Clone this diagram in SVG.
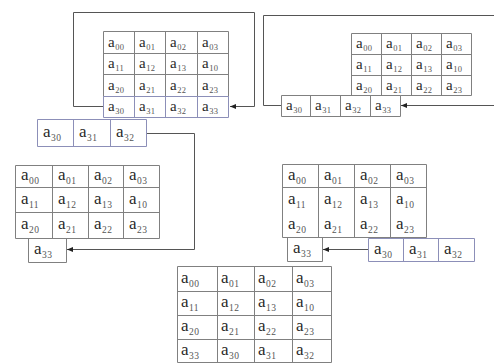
<svg xmlns="http://www.w3.org/2000/svg" width="494" height="363" viewBox="0 0 494 363">
<defs>
<style>
.g{fill:none;stroke:#808080;stroke-width:1}
.b{fill:none;stroke:#8c8fb8;stroke-width:1}
.c{fill:none;stroke:#555;stroke-width:1}
text{font-family:"Liberation Serif",serif;fill:#2a2a2a}
.m{font-size:15px}
.L{font-size:17px}
.s{font-size:8.5px;fill:#555;letter-spacing:0.4px}
.S{font-size:9.5px;fill:#555;letter-spacing:0.4px}
</style>
<marker id="ar" markerUnits="userSpaceOnUse" markerWidth="6" markerHeight="6" refX="6" refY="3" orient="auto">
<path d="M0,0.5 L6,3 L0,5.5 z" fill="#222"/>
</marker>
</defs>
<rect width="494" height="363" fill="#fff"/>

<g id="connectors">
<path class="c" d="M103 106.5 H73.5 V12.5 H254.5 V106.5 H230" marker-end="url(#ar)"/>
<path class="c" d="M146 133.5 H194.5 V249.5 H67" marker-end="url(#ar)"/>
<path class="c" d="M281 105.5 H263.5 V15.5 H498 V105.5 H401" marker-end="url(#ar)"/>
<path class="c" d="M368 249.5 H323" marker-end="url(#ar)"/>
</g>

<g id="m1">
<path class="g" d="M103.5 31.5 H228.5 V96.5 H103.5 Z M103.5 53.5 H228.5 M103.5 74.5 H228.5 M134.5 31.5 V96.5 M165.5 31.5 V96.5 M197.5 31.5 V96.5"/>
<path class="b" d="M103.5 96.5 H228.5 V117.5 H103.5 Z M134.5 96.5 V117.5 M165.5 96.5 V117.5 M197.5 96.5 V117.5"/>
<text class="m" x="108" y="46.5">a<tspan class="s" dx="0.5" dy="3">00</tspan></text>
<text class="m" x="139" y="46.5">a<tspan class="s" dx="0.5" dy="3">01</tspan></text>
<text class="m" x="170" y="46.5">a<tspan class="s" dx="0.5" dy="3">02</tspan></text>
<text class="m" x="202" y="46.5">a<tspan class="s" dx="0.5" dy="3">03</tspan></text>
<text class="m" x="108" y="68">a<tspan class="s" dx="0.5" dy="3">11</tspan></text>
<text class="m" x="139" y="68">a<tspan class="s" dx="0.5" dy="3">12</tspan></text>
<text class="m" x="170" y="68">a<tspan class="s" dx="0.5" dy="3">13</tspan></text>
<text class="m" x="202" y="68">a<tspan class="s" dx="0.5" dy="3">10</tspan></text>
<text class="m" x="108" y="89.5">a<tspan class="s" dx="0.5" dy="3">20</tspan></text>
<text class="m" x="139" y="89.5">a<tspan class="s" dx="0.5" dy="3">21</tspan></text>
<text class="m" x="170" y="89.5">a<tspan class="s" dx="0.5" dy="3">22</tspan></text>
<text class="m" x="202" y="89.5">a<tspan class="s" dx="0.5" dy="3">23</tspan></text>
<text class="m" x="108" y="111">a<tspan class="s" dx="0.5" dy="3">30</tspan></text>
<text class="m" x="139" y="111">a<tspan class="s" dx="0.5" dy="3">31</tspan></text>
<text class="m" x="170" y="111">a<tspan class="s" dx="0.5" dy="3">32</tspan></text>
<text class="m" x="202" y="111">a<tspan class="s" dx="0.5" dy="3">33</tspan></text>
</g>

<g id="row1">
<path class="b" d="M37.5 119.5 H146.5 V146.5 H37.5 Z M73.5 119.5 V146.5 M110.5 119.5 V146.5"/>
<text class="L" x="43" y="137">a<tspan class="S" dx="0.5" dy="4">30</tspan></text>
<text class="L" x="79" y="137">a<tspan class="S" dx="0.5" dy="4">31</tspan></text>
<text class="L" x="116" y="137">a<tspan class="S" dx="0.5" dy="4">32</tspan></text>
</g>

<g id="m2">
<path class="g" d="M15.5 165.5 H159.5 V238.5 H15.5 Z M15.5 187.5 H159.5 M15.5 212.5 H159.5 M52.5 165.5 V238.5 M88.5 165.5 V238.5 M123.5 165.5 V238.5 M28.5 238.5 V262.5 H66.5 V238.5"/>
<text class="L" x="21" y="180">a<tspan class="S" dx="0.5" dy="4">00</tspan></text>
<text class="L" x="58" y="180">a<tspan class="S" dx="0.5" dy="4">01</tspan></text>
<text class="L" x="94" y="180">a<tspan class="S" dx="0.5" dy="4">02</tspan></text>
<text class="L" x="129" y="180">a<tspan class="S" dx="0.5" dy="4">03</tspan></text>
<text class="L" x="21" y="203.5">a<tspan class="S" dx="0.5" dy="4">11</tspan></text>
<text class="L" x="58" y="203.5">a<tspan class="S" dx="0.5" dy="4">12</tspan></text>
<text class="L" x="94" y="203.5">a<tspan class="S" dx="0.5" dy="4">13</tspan></text>
<text class="L" x="129" y="203.5">a<tspan class="S" dx="0.5" dy="4">10</tspan></text>
<text class="L" x="21" y="229">a<tspan class="S" dx="0.5" dy="4">20</tspan></text>
<text class="L" x="58" y="229">a<tspan class="S" dx="0.5" dy="4">21</tspan></text>
<text class="L" x="94" y="229">a<tspan class="S" dx="0.5" dy="4">22</tspan></text>
<text class="L" x="129" y="229">a<tspan class="S" dx="0.5" dy="4">23</tspan></text>
<text class="L" x="34" y="254">a<tspan class="S" dx="0.5" dy="4">33</tspan></text>
</g>

<g id="m3">
<path class="g" d="M351.5 33.5 H471.5 V95.5 H351.5 Z M351.5 54.5 H471.5 M351.5 75.5 H471.5 M381.5 33.5 V95.5 M411.5 33.5 V95.5 M441.5 33.5 V95.5"/>
<text class="m" x="356" y="48">a<tspan class="s" dx="0.5" dy="3">00</tspan></text>
<text class="m" x="386" y="48">a<tspan class="s" dx="0.5" dy="3">01</tspan></text>
<text class="m" x="416" y="48">a<tspan class="s" dx="0.5" dy="3">02</tspan></text>
<text class="m" x="446" y="48">a<tspan class="s" dx="0.5" dy="3">03</tspan></text>
<text class="m" x="356" y="69">a<tspan class="s" dx="0.5" dy="3">11</tspan></text>
<text class="m" x="386" y="69">a<tspan class="s" dx="0.5" dy="3">12</tspan></text>
<text class="m" x="416" y="69">a<tspan class="s" dx="0.5" dy="3">13</tspan></text>
<text class="m" x="446" y="69">a<tspan class="s" dx="0.5" dy="3">10</tspan></text>
<text class="m" x="356" y="89.5">a<tspan class="s" dx="0.5" dy="3">20</tspan></text>
<text class="m" x="386" y="89.5">a<tspan class="s" dx="0.5" dy="3">21</tspan></text>
<text class="m" x="416" y="89.5">a<tspan class="s" dx="0.5" dy="3">22</tspan></text>
<text class="m" x="446" y="89.5">a<tspan class="s" dx="0.5" dy="3">23</tspan></text>
</g>

<g id="row2">
<rect x="281.5" y="95.5" width="119" height="21" fill="#fff"/>
<path class="g" d="M281.5 95.5 H400.5 V116.5 H281.5 Z M310.5 95.5 V116.5 M340.5 95.5 V116.5 M370.5 95.5 V116.5"/>
<text class="m" x="286" y="110">a<tspan class="s" dx="0.5" dy="3">30</tspan></text>
<text class="m" x="315" y="110">a<tspan class="s" dx="0.5" dy="3">31</tspan></text>
<text class="m" x="345" y="110">a<tspan class="s" dx="0.5" dy="3">32</tspan></text>
<text class="m" x="375" y="110">a<tspan class="s" dx="0.5" dy="3">33</tspan></text>
</g>

<g id="m4">
<path class="g" d="M282.5 164.5 H426.5 V237.5 H282.5 Z M282.5 187.5 H426.5 M318.5 164.5 V237.5 M354.5 164.5 V237.5 M390.5 164.5 V237.5 M287.5 237.5 V261.5 H322.5 V237.5"/>
<text class="L" x="288" y="179.5">a<tspan class="S" dx="0.5" dy="4">00</tspan></text>
<text class="L" x="324" y="179.5">a<tspan class="S" dx="0.5" dy="4">01</tspan></text>
<text class="L" x="360" y="179.5">a<tspan class="S" dx="0.5" dy="4">02</tspan></text>
<text class="L" x="396" y="179.5">a<tspan class="S" dx="0.5" dy="4">03</tspan></text>
<text class="L" x="288" y="203.5">a<tspan class="S" dx="0.5" dy="4">11</tspan></text>
<text class="L" x="324" y="203.5">a<tspan class="S" dx="0.5" dy="4">12</tspan></text>
<text class="L" x="360" y="203.5">a<tspan class="S" dx="0.5" dy="4">13</tspan></text>
<text class="L" x="396" y="203.5">a<tspan class="S" dx="0.5" dy="4">10</tspan></text>
<text class="L" x="288" y="228.5">a<tspan class="S" dx="0.5" dy="4">20</tspan></text>
<text class="L" x="324" y="228.5">a<tspan class="S" dx="0.5" dy="4">21</tspan></text>
<text class="L" x="360" y="228.5">a<tspan class="S" dx="0.5" dy="4">22</tspan></text>
<text class="L" x="396" y="228.5">a<tspan class="S" dx="0.5" dy="4">23</tspan></text>
<text class="L" x="293" y="253">a<tspan class="S" dx="0.5" dy="4">33</tspan></text>
</g>

<g id="row3">
<path class="b" d="M368.5 238.5 H474.5 V261.5 H368.5 Z M403.5 238.5 V261.5 M438.5 238.5 V261.5"/>
<text class="L" x="374" y="253.5">a<tspan class="S" dx="0.5" dy="4">30</tspan></text>
<text class="L" x="409" y="253.5">a<tspan class="S" dx="0.5" dy="4">31</tspan></text>
<text class="L" x="444" y="253.5">a<tspan class="S" dx="0.5" dy="4">32</tspan></text>
</g>

<g id="m5">
<path class="g" d="M177.5 266.5 H331.5 V362.5 H177.5 Z M177.5 291.5 H331.5 M177.5 315.5 H331.5 M177.5 339.5 H331.5 M217.5 266.5 V362.5 M254.5 266.5 V362.5 M292.5 266.5 V362.5"/>
<text class="L" x="181" y="282.5">a<tspan class="S" dx="0.5" dy="4">00</tspan></text>
<text class="L" x="221" y="282.5">a<tspan class="S" dx="0.5" dy="4">01</tspan></text>
<text class="L" x="258" y="282.5">a<tspan class="S" dx="0.5" dy="4">02</tspan></text>
<text class="L" x="296" y="282.5">a<tspan class="S" dx="0.5" dy="4">03</tspan></text>
<text class="L" x="181" y="307">a<tspan class="S" dx="0.5" dy="4">11</tspan></text>
<text class="L" x="221" y="307">a<tspan class="S" dx="0.5" dy="4">12</tspan></text>
<text class="L" x="258" y="307">a<tspan class="S" dx="0.5" dy="4">13</tspan></text>
<text class="L" x="296" y="307">a<tspan class="S" dx="0.5" dy="4">10</tspan></text>
<text class="L" x="181" y="331">a<tspan class="S" dx="0.5" dy="4">20</tspan></text>
<text class="L" x="221" y="331">a<tspan class="S" dx="0.5" dy="4">21</tspan></text>
<text class="L" x="258" y="331">a<tspan class="S" dx="0.5" dy="4">22</tspan></text>
<text class="L" x="296" y="331">a<tspan class="S" dx="0.5" dy="4">23</tspan></text>
<text class="L" x="181" y="355">a<tspan class="S" dx="0.5" dy="4">33</tspan></text>
<text class="L" x="221" y="355">a<tspan class="S" dx="0.5" dy="4">30</tspan></text>
<text class="L" x="258" y="355">a<tspan class="S" dx="0.5" dy="4">31</tspan></text>
<text class="L" x="296" y="355">a<tspan class="S" dx="0.5" dy="4">32</tspan></text>
</g>
</svg>
